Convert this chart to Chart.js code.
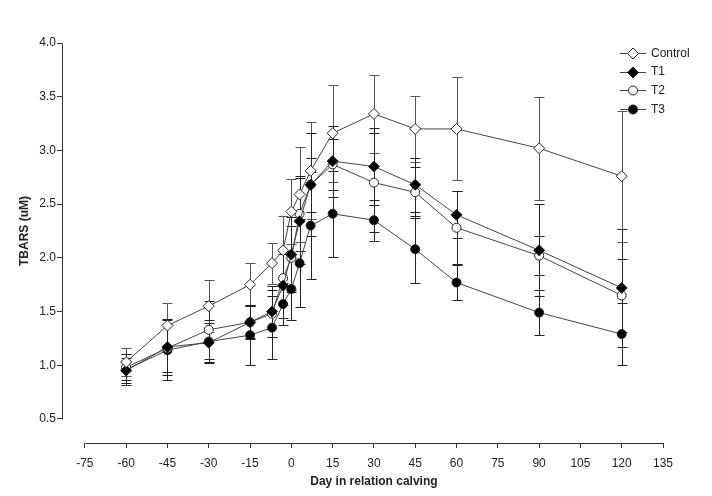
<!DOCTYPE html>
<html>
<head>
<meta charset="utf-8">
<script src="https://cdn.jsdelivr.net/npm/chart.js@4/dist/chart.umd.min.js"></script>
<style>
  html, body { margin: 0; padding: 0; background: #fff; }
  #wrap { width: 712px; height: 496px; }
</style>
</head>
<body>
<div id="wrap"><canvas id="c" width="712" height="496"></canvas></div>
<script>
// ---- Data ----
const days = [-60, -45, -30, -15, -7, -3, 0, 3, 7, 15, 30, 45, 60, 90, 120];

const control    = [1.03, 1.37, 1.55, 1.75, 1.95, 2.07, 2.43, 2.59, 2.81, 3.16, 3.34, 3.20, 3.20, 3.02, 2.76];
const controlErr = [0.13, 0.21, 0.24, 0.20, 0.19, 0.32, 0.30, 0.44, 0.45, 0.45, 0.36, 0.31, 0.48, 0.48, 0.61];

const t1    = [0.95, 1.17, 1.21, 1.40, 1.50, 1.74, 2.03, 2.34, 2.68, 2.90, 2.85, 2.68, 2.40, 2.07, 1.72];
const t1Err = [0.12, 0.26, 0.18, 0.16, 0.24, 0.30, 0.35, 0.40, 0.48, 0.33, 0.36, 0.25, 0.22, 0.43, 0.55];

const t2    = [0.98, 1.16, 1.33, 1.40, 1.48, 1.81, 2.00, 2.41, 2.68, 2.87, 2.70, 2.61, 2.28, 2.02, 1.65];
const t2Err = [0.12, 0.22, 0.27, 0.15, 0.22, 0.25, 0.30, 0.35, 0.25, 0.24, 0.46, 0.24, 0.34, 0.18, 0.34];

const t3    = [0.96, 1.14, 1.22, 1.28, 1.35, 1.57, 1.71, 1.95, 2.30, 2.41, 2.35, 2.08, 1.77, 1.49, 1.29];
const t3Err = [0.14, 0.28, 0.20, 0.28, 0.29, 0.20, 0.29, 0.41, 0.50, 0.40, 0.19, 0.31, 0.16, 0.21, 0.29];

const xTicks = [-75, -60, -45, -30, -15, 0, 15, 30, 45, 60, 75, 90, 105, 120, 135];
const yTicks = [0.5, 1.0, 1.5, 2.0, 2.5, 3.0, 3.5, 4.0];

const seriesLabels = ['Control', 'T1', 'T2', 'T3'];
const xTitle = 'Day in relation calving';
const yTitle = 'TBARS (uM)';

// ---- Build chart ----
const FONT = "'Liberation Sans', Arial, sans-serif";
const LINE = '#444';

function pts(vals, errs) {
  return days.map((d, i) => ({ x: d, y: vals[i], err: errs[i] }));
}

const styles = [
  { pointStyle: 'rectRot', radius: 5.5, fill: '#fff', errColor: '#555' },
  { pointStyle: 'rectRot', radius: 5.5, fill: '#000', errColor: '#222' },
  { pointStyle: 'circle',  radius: 4.5, fill: '#fff', errColor: '#222' },
  { pointStyle: 'circle',  radius: 4.5, fill: '#000', errColor: '#222' }
];
const seriesData = [pts(control, controlErr), pts(t1, t1Err), pts(t2, t2Err), pts(t3, t3Err)];

const datasets = seriesData.map((d, i) => ({
  label: seriesLabels[i],
  data: d,
  showLine: true,
  borderColor: LINE,
  borderWidth: 1,
  pointStyle: styles[i].pointStyle,
  pointRadius: styles[i].radius,
  pointHoverRadius: styles[i].radius,
  pointBackgroundColor: styles[i].fill,
  pointBorderColor: '#222',
  pointBorderWidth: 1,
  errColor: styles[i].errColor,
  tension: 0
}));

const errorBars = {
  id: 'errorBars',
  beforeDatasetsDraw(chart) {
    const ctx = chart.ctx, xs = chart.scales.x, ys = chart.scales.y;
    ctx.save();
    ctx.lineWidth = 1;
    chart.data.datasets.forEach((ds) => {
      ctx.strokeStyle = ds.errColor;
      ds.data.forEach(p => {
        const px = Math.round(xs.getPixelForValue(p.x)) + 0.5;
        const top = Math.round(ys.getPixelForValue(p.y + p.err)) + 0.5;
        const bot = Math.round(ys.getPixelForValue(p.y - p.err)) + 0.5;
        const cw = 5;
        ctx.beginPath();
        ctx.moveTo(px, top); ctx.lineTo(px, bot);
        ctx.moveTo(px - cw, top); ctx.lineTo(px + cw, top);
        ctx.moveTo(px - cw, bot); ctx.lineTo(px + cw, bot);
        ctx.stroke();
      });
    });
    ctx.restore();
  }
};

function drawMarker(ctx, style, x, y, r, fill) {
  ctx.beginPath();
  if (style === 'rectRot') {
    ctx.moveTo(x - r, y); ctx.lineTo(x, y - r); ctx.lineTo(x + r, y); ctx.lineTo(x, y + r); ctx.closePath();
  } else {
    ctx.arc(x, y, r, 0, Math.PI * 2);
  }
  ctx.fillStyle = fill; ctx.fill();
  ctx.strokeStyle = '#222'; ctx.lineWidth = 1; ctx.stroke();
}

const axesAndText = {
  id: 'axesAndText',
  afterDraw(chart) {
    const ctx = chart.ctx, xs = chart.scales.x, ys = chart.scales.y, a = chart.chartArea;
    ctx.save();
    ctx.strokeStyle = '#333';
    ctx.lineWidth = 1;
    // y axis line
    const yl = Math.round(a.left) + 0.5;
    ctx.beginPath();
    ctx.moveTo(yl, Math.round(ys.getPixelForValue(yTicks[0])) + 0.5);
    ctx.lineTo(yl, Math.round(ys.getPixelForValue(yTicks[yTicks.length - 1])) + 0.5);
    ctx.stroke();
    // x axis line
    const xl = Math.round(a.bottom) + 0.5;
    ctx.beginPath();
    ctx.moveTo(Math.round(xs.getPixelForValue(xTicks[0])) + 0.5, xl);
    ctx.lineTo(Math.round(xs.getPixelForValue(xTicks[xTicks.length - 1])) + 0.5, xl);
    ctx.stroke();

    // titles
    ctx.fillStyle = '#222';
    ctx.font = 'bold 12px ' + FONT;
    ctx.textAlign = 'center';
    ctx.textBaseline = 'middle';
    const xc = (xs.getPixelForValue(xTicks[0]) + xs.getPixelForValue(xTicks[xTicks.length - 1])) / 2;
    ctx.fillText(xTitle, xc, 482);
    ctx.save();
    ctx.translate(25, (ys.getPixelForValue(yTicks[0]) + ys.getPixelForValue(yTicks[yTicks.length - 1])) / 2);
    ctx.rotate(-Math.PI / 2);
    ctx.fillText(yTitle, 0, 0);
    ctx.restore();

    // legend
    const lx0 = 620, lx1 = 646, mx = 633, tx = 651;
    const rows = [53, 71.5, 90, 109];
    chart.data.datasets.forEach((ds, i) => {
      const y = rows[i];
      ctx.strokeStyle = LINE; ctx.lineWidth = 1;
      ctx.beginPath(); ctx.moveTo(lx0, Math.round(y) + 0.5); ctx.lineTo(lx1, Math.round(y) + 0.5); ctx.stroke();
      drawMarker(ctx, ds.pointStyle, mx, Math.round(y) + 0.5, ds.pointRadius, ds.pointBackgroundColor);
      ctx.fillStyle = '#222';
      ctx.font = '12px ' + FONT;
      ctx.textAlign = 'left';
      ctx.textBaseline = 'middle';
      ctx.fillText(ds.label, tx, y + 0.5);
    });
    ctx.restore();
  }
};

new Chart(document.getElementById('c'), {
  type: 'scatter',
  data: { datasets },
  options: {
    responsive: false,
    animation: false,
    events: [],
    layout: { padding: { top: 43, right: 49, left: 0, bottom: 0 } },
    plugins: { legend: { display: false }, tooltip: { enabled: false } },
    scales: {
      x: {
        type: 'linear',
        min: -83.3,
        max: 135,
        afterFit(s) { s.height = 53; },
        afterBuildTicks(s) { s.ticks = xTicks.map(v => ({ value: v })); },
        border: { display: false },
        grid: { display: true, drawOnChartArea: false, drawTicks: true, tickLength: 5, color: '#333' },
        ticks: { color: '#222', font: { family: FONT, size: 12 }, padding: 8, maxRotation: 0, autoSkip: false,
                 callback: v => String(v) }
      },
      y: {
        type: 'linear',
        min: 0.276,
        max: 4.0,
        afterFit(s) { s.width = 62; },
        afterBuildTicks(s) { s.ticks = yTicks.map(v => ({ value: v })); },
        border: { display: false },
        grid: { display: true, drawOnChartArea: false, drawTicks: true, tickLength: 5, color: '#333' },
        ticks: { color: '#222', font: { family: FONT, size: 12 }, padding: 1, autoSkip: false,
                 callback: v => Number(v).toFixed(1) }
      }
    }
  },
  plugins: [errorBars, axesAndText]
});
</script>
</body>
</html>
